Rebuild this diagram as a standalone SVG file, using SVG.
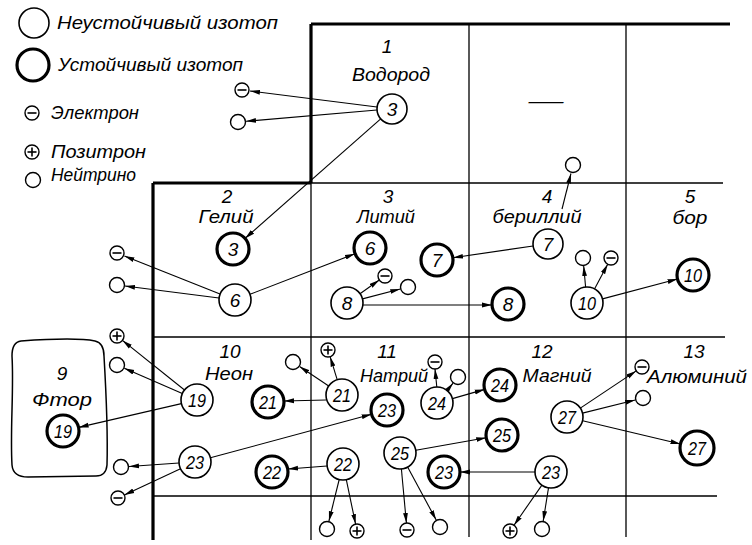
<svg xmlns="http://www.w3.org/2000/svg" xmlns:xlink="http://www.w3.org/1999/xlink" width="752" height="545" viewBox="0 0 752 545">
<style>
text { font-family: "Liberation Sans", "DejaVu Sans", sans-serif; font-style: italic; font-size: 19px; fill: #000; }
.c { text-anchor: middle; }
.thin { fill: #fff; stroke: #000; stroke-width: 1.6; }
.thick { fill: #fff; stroke: #000; stroke-width: 3.2; }
.gthick { stroke: #000; stroke-width: 3.2; fill: none; }
.gthin { stroke: #000; stroke-width: 1.3; fill: none; }
#connectors line { stroke: #000; stroke-width: 1.1; marker-end: url(#ah); }
.p { fill: #fff; stroke: #000; stroke-width: 1.4; }
.pm { stroke: #000; stroke-width: 1.6; }
</style>
<defs>
<marker id="ah" markerUnits="userSpaceOnUse" markerWidth="11" markerHeight="6" refX="10" refY="3" orient="auto">
<path d="M0,0.6 L10,3 L0,5.4 Z" fill="#000"/>
</marker>
<g id="electron"><circle class="p" r="7"/><line class="pm" x1="-4.5" y1="0" x2="4.5" y2="0"/></g>
<g id="positron"><circle class="p" r="7"/><line class="pm" x1="-4.5" y1="0" x2="4.5" y2="0"/><line class="pm" x1="0" y1="-4.5" x2="0" y2="4.5"/></g>
<g id="neutrino"><circle class="p" r="7.5"/></g>
</defs>

<!-- grid -->
<g id="grid">
<path class="gthick" d="M311,24 H730 M311,24 V183 M153,183 H311 M153,183 V540"/>
<path class="gthin" d="M311,183 H723 M153,337 H725 M153,496 H717 M311,183 V540 M469,24 V537 M626,24 V537"/>
</g>

<!-- legend -->
<g id="legend">
<circle class="thin" cx="34" cy="23" r="15"/>
<text x="57" y="29" textLength="221" lengthAdjust="spacingAndGlyphs">Неустойчивый изотоп</text>
<circle class="thick" cx="33" cy="65" r="16"/>
<text x="58" y="71" textLength="185" lengthAdjust="spacingAndGlyphs">Устойчивый изотоп</text>
<use xlink:href="#electron" x="32" y="113"/>
<text x="51" y="119" textLength="88" lengthAdjust="spacingAndGlyphs">Электрон</text>
<use xlink:href="#positron" x="32" y="152"/>
<text x="51" y="158" textLength="95" lengthAdjust="spacingAndGlyphs">Позитрон</text>
<use xlink:href="#neutrino" x="33" y="180"/>
<text x="51" y="181" textLength="85" lengthAdjust="spacingAndGlyphs">Нейтрино</text>
</g>

<!-- cell labels -->
<g id="labels">
<text class="c" x="387" y="53">1</text>
<text class="c" x="391" y="81" textLength="78" lengthAdjust="spacingAndGlyphs">Водород</text>
<text class="c" x="546" y="107" textLength="35" lengthAdjust="spacingAndGlyphs">—</text>
<text class="c" x="227" y="203">2</text>
<text class="c" x="226" y="223" textLength="55" lengthAdjust="spacingAndGlyphs">Гелий</text>
<text class="c" x="388" y="203">3</text>
<text class="c" x="386" y="223" textLength="58" lengthAdjust="spacingAndGlyphs">Литий</text>
<text class="c" x="547" y="203">4</text>
<text class="c" x="537" y="223" textLength="89" lengthAdjust="spacingAndGlyphs">бериллий</text>
<text class="c" x="690" y="203">5</text>
<text class="c" x="690" y="224" textLength="35" lengthAdjust="spacingAndGlyphs">бор</text>
<text class="c" x="230" y="358">10</text>
<text class="c" x="229" y="380" textLength="48" lengthAdjust="spacingAndGlyphs">Неон</text>
<text class="c" x="387" y="358">11</text>
<text class="c" x="394" y="382" textLength="68" lengthAdjust="spacingAndGlyphs">Натрий</text>
<text class="c" x="542" y="358">12</text>
<text class="c" x="557" y="382" textLength="69" lengthAdjust="spacingAndGlyphs">Магний</text>
<text class="c" x="694" y="358">13</text>
<text class="c" x="697" y="383" textLength="100" lengthAdjust="spacingAndGlyphs">Алюминий</text>
</g>

<!-- fluorine box -->
<g id="fluorine">
<path fill="none" stroke="#000" stroke-width="1.5" d="M21,341 C50,339 80,338 95,341 Q104,343 104,356 C106,390 108,430 107,465 Q106,476 96,476 L28,477 Q13,477 12,465 C10,430 14,390 12,356 Q12,342 21,341 Z"/>
<text class="c" x="62" y="380">9</text>
<text class="c" x="62" y="406" textLength="60" lengthAdjust="spacingAndGlyphs">Фтор</text>
</g>

<!-- connectors -->
<g id="connectors">
<line x1="377" y1="107" x2="250" y2="91"/>
<line x1="377" y1="110" x2="246" y2="121.3"/>
<line x1="380.7" y1="118.9" x2="245" y2="238.4"/>
<line x1="562" y1="209" x2="571" y2="173.5"/>
<line x1="220" y1="294" x2="124.4" y2="256"/>
<line x1="219" y1="298" x2="125" y2="286"/>
<line x1="250" y1="294.3" x2="355" y2="253.7"/>
<line x1="533" y1="246" x2="453" y2="257.7"/>
<line x1="360" y1="293.7" x2="379.3" y2="280"/>
<line x1="362.5" y1="298.9" x2="400.3" y2="289"/>
<line x1="363" y1="305" x2="492" y2="305"/>
<line x1="585.6" y1="287" x2="583.7" y2="266"/>
<line x1="594.5" y1="288.9" x2="607.7" y2="264.2"/>
<line x1="602.5" y1="298.9" x2="677.5" y2="279"/>
<line x1="184.5" y1="390" x2="122.5" y2="340.4"/>
<line x1="182.3" y1="393.6" x2="124.3" y2="368.2"/>
<line x1="181.4" y1="403.6" x2="78.6" y2="427.4"/>
<line x1="337.2" y1="379.7" x2="330.1" y2="356.7"/>
<line x1="328.7" y1="386" x2="299.6" y2="366.5"/>
<line x1="326" y1="400" x2="284" y2="401"/>
<line x1="210.4" y1="457.8" x2="371.6" y2="414.2"/>
<line x1="179" y1="463" x2="129" y2="466.5"/>
<line x1="180.5" y1="468.8" x2="124.3" y2="495"/>
<line x1="327" y1="466" x2="288" y2="469"/>
<line x1="436.8" y1="387" x2="435" y2="369"/>
<line x1="447" y1="390.6" x2="453" y2="383.2"/>
<line x1="452.4" y1="398.6" x2="484.6" y2="389.4"/>
<line x1="415.8" y1="450.2" x2="486.2" y2="437.8"/>
<line x1="535" y1="472" x2="460" y2="472"/>
<line x1="580.3" y1="408.1" x2="636.2" y2="370.9"/>
<line x1="582.5" y1="413.1" x2="635.2" y2="400"/>
<line x1="582.6" y1="420.7" x2="680.5" y2="444"/>
<line x1="339.2" y1="479.5" x2="328.9" y2="521.2"/>
<line x1="346.3" y1="479.7" x2="355.6" y2="524.1"/>
<line x1="401.4" y1="469" x2="406.4" y2="523"/>
<line x1="407.6" y1="467.1" x2="436.2" y2="520"/>
<line x1="541.9" y1="485.1" x2="514" y2="525.3"/>
<line x1="548.5" y1="487.8" x2="543.2" y2="521.1"/>
</g>

<!-- isotope nodes -->
<g id="H3"><circle class="thin" cx="392" cy="109" r="15"/><text class="c" x="392" y="116">3</text></g>
<g id="He3"><circle class="thick" cx="233" cy="249" r="16"/><text class="c" x="233" y="256">3</text></g>
<g id="He6"><circle class="thin" cx="235" cy="300" r="16"/><text class="c" x="235" y="307">6</text></g>
<g id="Li6"><circle class="thick" cx="370" cy="248" r="16"/><text class="c" x="370" y="255">6</text></g>
<g id="Li7"><circle class="thick" cx="437" cy="260" r="16"/><text class="c" x="437" y="267">7</text></g>
<g id="Li8"><circle class="thin" cx="347" cy="303" r="16"/><text class="c" x="347" y="310">8</text></g>
<g id="Be7"><circle class="thin" cx="548" cy="244" r="15"/><text class="c" x="548" y="251">7</text></g>
<g id="Be8"><circle class="thick" cx="508" cy="304" r="16"/><text class="c" x="508" y="311">8</text></g>
<g id="Be10"><circle class="thin" cx="587" cy="303" r="16"/><text class="c" x="587" y="310" textLength="18" lengthAdjust="spacingAndGlyphs">10</text></g>
<g id="B10"><circle class="thick" cx="693" cy="275" r="16"/><text class="c" x="693" y="282" textLength="18" lengthAdjust="spacingAndGlyphs">10</text></g>
<g id="F19"><circle class="thick" cx="63" cy="431" r="16"/><text class="c" x="63" y="438" textLength="18" lengthAdjust="spacingAndGlyphs">19</text></g>
<g id="Ne19"><circle class="thin" cx="197" cy="400" r="16"/><text class="c" x="197" y="407" textLength="18" lengthAdjust="spacingAndGlyphs">19</text></g>
<g id="Ne21"><circle class="thick" cx="268" cy="402" r="16"/><text class="c" x="268" y="409" textLength="18" lengthAdjust="spacingAndGlyphs">21</text></g>
<g id="Ne23"><circle class="thin" cx="195" cy="462" r="16"/><text class="c" x="195" y="469" textLength="18" lengthAdjust="spacingAndGlyphs">23</text></g>
<g id="Ne22"><circle class="thick" cx="272" cy="472" r="16"/><text class="c" x="272" y="479" textLength="18" lengthAdjust="spacingAndGlyphs">22</text></g>
<g id="Na21"><circle class="thin" cx="342" cy="395" r="16"/><text class="c" x="342" y="402" textLength="18" lengthAdjust="spacingAndGlyphs">21</text></g>
<g id="Na23a"><circle class="thick" cx="387" cy="410" r="16"/><text class="c" x="387" y="417" textLength="18" lengthAdjust="spacingAndGlyphs">23</text></g>
<g id="Na24"><circle class="thin" cx="437" cy="403" r="16"/><text class="c" x="437" y="410" textLength="18" lengthAdjust="spacingAndGlyphs">24</text></g>
<g id="Mg24"><circle class="thick" cx="500" cy="385" r="16"/><text class="c" x="500" y="392" textLength="18" lengthAdjust="spacingAndGlyphs">24</text></g>
<g id="Na22"><circle class="thin" cx="343" cy="464" r="16"/><text class="c" x="343" y="471" textLength="18" lengthAdjust="spacingAndGlyphs">22</text></g>
<g id="Na25"><circle class="thin" cx="400" cy="453" r="16"/><text class="c" x="400" y="460" textLength="18" lengthAdjust="spacingAndGlyphs">25</text></g>
<g id="Na23b"><circle class="thick" cx="444" cy="472" r="16"/><text class="c" x="444" y="479" textLength="18" lengthAdjust="spacingAndGlyphs">23</text></g>
<g id="Mg25"><circle class="thick" cx="502" cy="435" r="16"/><text class="c" x="502" y="442" textLength="18" lengthAdjust="spacingAndGlyphs">25</text></g>
<g id="Mg23"><circle class="thin" cx="551" cy="472" r="16"/><text class="c" x="551" y="479" textLength="18" lengthAdjust="spacingAndGlyphs">23</text></g>
<g id="Mg27"><circle class="thin" cx="567" cy="417" r="16"/><text class="c" x="567" y="424" textLength="18" lengthAdjust="spacingAndGlyphs">27</text></g>
<g id="Al27"><circle class="thick" cx="697" cy="448" r="17"/><text class="c" x="697" y="455" textLength="18" lengthAdjust="spacingAndGlyphs">27</text></g>

<!-- particles -->
<g id="H3-e"><use xlink:href="#electron" x="242" y="90"/></g>
<g id="H3-n"><use xlink:href="#neutrino" x="238" y="122"/></g>
<g id="Be7-n"><use xlink:href="#neutrino" x="573" y="165"/></g>
<g id="He6-e"><use xlink:href="#electron" x="117" y="253"/></g>
<g id="He6-n"><use xlink:href="#neutrino" x="117" y="285"/></g>
<g id="Li8-e"><use xlink:href="#electron" x="385" y="276"/></g>
<g id="Li8-n"><use xlink:href="#neutrino" x="408" y="287"/></g>
<g id="Be10-n"><use xlink:href="#neutrino" x="583" y="258"/></g>
<g id="Be10-e"><use xlink:href="#electron" x="611" y="258"/></g>
<g id="Ne19-p"><use xlink:href="#positron" x="117" y="336"/></g>
<g id="Ne19-n"><use xlink:href="#neutrino" x="117" y="365"/></g>
<g id="Ne23-n"><use xlink:href="#neutrino" x="121" y="467"/></g>
<g id="Ne23-e"><use xlink:href="#electron" x="118" y="498"/></g>
<g id="Na21-p"><use xlink:href="#positron" x="328" y="350"/></g>
<g id="Na21-n"><use xlink:href="#neutrino" x="293" y="362"/></g>
<g id="Na24-e"><use xlink:href="#electron" x="435" y="362"/></g>
<g id="Na24-n"><use xlink:href="#neutrino" x="458" y="377"/></g>
<g id="Mg27-e"><use xlink:href="#electron" x="642" y="367"/></g>
<g id="Mg27-n"><use xlink:href="#neutrino" x="643" y="398"/></g>
<g id="Na22-n"><use xlink:href="#neutrino" x="327" y="529"/></g>
<g id="Na22-p"><use xlink:href="#positron" x="357" y="531"/></g>
<g id="Na25-e"><use xlink:href="#electron" x="407" y="530"/></g>
<g id="Na25-n"><use xlink:href="#neutrino" x="440" y="527"/></g>
<g id="Mg23-p"><use xlink:href="#positron" x="510" y="531"/></g>
<g id="Mg23-n"><use xlink:href="#neutrino" x="542" y="529"/></g>
</svg>
